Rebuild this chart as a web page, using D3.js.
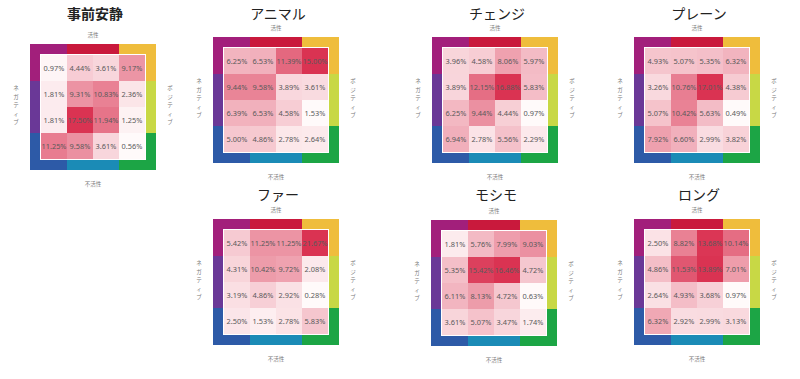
<!DOCTYPE html>
<html>
<head>
<meta charset="utf-8">
<script src="https://cdn.jsdelivr.net/npm/d3@7"></script>
<style>
  body { margin: 0; background: #fff; }
  svg { display: block; }
</style>
</head>
<body>
<svg id="chart" width="800" height="379"></svg>
<script>
// panel titles
var titles = ["事前安静", "アニマル", "チェンジ", "プレーン", "ファー", "モシモ", "ロング"];

// 4x4 percentages per panel, top row (活性) first, left column (ネガティブ) first
var restValues   = [[0.97, 4.44, 3.61, 9.17], [1.81, 9.31, 10.83, 2.36], [1.81, 17.50, 11.94, 1.25], [11.25, 9.58, 3.61, 0.56]];
var animalValues = [[6.25, 6.53, 11.39, 15.00], [9.44, 9.58, 3.89, 3.61], [6.39, 6.53, 4.58, 1.53], [5.00, 4.86, 2.78, 2.64]];
var changeValues = [[3.96, 4.58, 8.06, 5.97], [3.89, 12.15, 16.88, 5.83], [6.25, 9.44, 4.44, 0.97], [6.94, 2.78, 5.56, 2.29]];
var plainValues  = [[4.93, 5.07, 5.35, 6.32], [3.26, 10.76, 17.01, 4.38], [5.07, 10.42, 5.63, 0.49], [7.92, 6.60, 2.99, 3.82]];
var furValues    = [[5.42, 11.25, 11.25, 21.67], [4.31, 10.42, 9.72, 2.08], [3.19, 4.86, 2.92, 0.28], [2.50, 1.53, 2.78, 5.83]];
var moshimoValues= [[1.81, 5.76, 7.99, 9.03], [5.35, 15.42, 16.46, 4.72], [6.11, 8.13, 4.72, 0.63], [3.61, 5.07, 3.47, 1.74]];
var longValues   = [[2.50, 8.82, 13.68, 10.14], [4.86, 11.53, 13.89, 7.01], [2.64, 4.93, 3.68, 0.97], [6.32, 2.92, 2.99, 3.13]];

var panelValues = [restValues, animalValues, changeValues, plainValues, furValues, moshimoValues, longValues];

var axisLabels = {top: "活性", bottom: "不活性", left: "ネガティブ", right: "ポジティブ"};

// layout of each panel (frame top-left corner, title baseline)
var layout = [
  {x: 30,  y: 44,  ty: 19,  bold: true},
  {x: 213, y: 37,  ty: 19},
  {x: 432, y: 37,  ty: 19},
  {x: 634, y: 37,  ty: 19},
  {x: 213, y: 219, ty: 200},
  {x: 431, y: 220, ty: 200},
  {x: 634, y: 219, ty: 200}
];

var frameColors = {tl: "#a21f7b", t: "#c9193c", tr: "#efbd3c", r: "#c8d845",
                   br: "#1ca545", b: "#1b8bb6", bl: "#2d5aa7", l: "#6a3897"};

var border = 10, gap = 1, cell = 26;
var size = border * 2 + gap * 2 + cell * 4;

var svg = d3.select("#chart");
var idx = [0, 1, 2, 3];

var band = d3.scaleBand()
    .domain(idx)
    .range([border + gap, border + gap + cell * 4]);

panelValues.forEach(function(values, p) {
    var L = layout[p];
    var g = svg.append("g").attr("transform", "translate(" + L.x + "," + L.y + ")");
    var flat = d3.merge(values);
    var color = d3.scaleLinear()
        .domain([d3.min(flat), d3.max(flat)])
        .range(["#fffafa", "#da3352"])
        .interpolate(d3.interpolateRgb);

    // frame: corners span border + first cell, middles span two cells
    var a = band(1), b = band(3);
    var segs = [
        [0, 0, a, border, "tl"], [0, 0, border, a, "tl"],
        [a, 0, b - a, border, "t"],
        [b, 0, size - b, border, "tr"], [size - border, 0, border, a, "tr"],
        [size - border, a, border, b - a, "r"],
        [size - border, b, border, size - b, "br"], [b, size - border, size - b, border, "br"],
        [a, size - border, b - a, border, "b"],
        [0, size - border, a, border, "bl"], [0, b, border, size - b, "bl"],
        [0, a, border, b - a, "l"]
    ];
    g.selectAll(".seg").data(segs).enter().append("rect")
        .attr("x", function(d) { return d[0]; })
        .attr("y", function(d) { return d[1]; })
        .attr("width", function(d) { return d[2]; })
        .attr("height", function(d) { return d[3]; })
        .attr("fill", function(d) { return frameColors[d[4]]; });

    var cells = [];
    values.forEach(function(row, r) {
        row.forEach(function(v, c) { cells.push({r: r, c: c, v: v}); });
    });

    g.selectAll(".cell").data(cells).enter().append("rect")
        .attr("x", function(d) { return band(d.c); })
        .attr("y", function(d) { return band(d.r); })
        .attr("width", band.bandwidth())
        .attr("height", band.bandwidth())
        .attr("fill", function(d) { return color(d.v); });

    g.selectAll(".lbl").data(cells).enter().append("text")
        .attr("x", function(d) { return band(d.c) + band.bandwidth() / 2; })
        .attr("y", function(d) { return band(d.r) + band.bandwidth() / 2 + 2.6; })
        .attr("text-anchor", "middle")
        .attr("font-family", "'Noto Sans', 'Open Sans', sans-serif")
        .attr("font-size", 7.4)
        .attr("fill", "#5a5a5a")
        .text(function(d) { return d.v.toFixed(2) + "%"; });

    // title
    svg.append("text")
        .attr("x", L.x + size / 2 + 2)
        .attr("y", L.ty)
        .attr("text-anchor", "middle")
        .attr("font-family", "'Noto Sans CJK JP', sans-serif")
        .attr("font-size", 14)
        .attr("font-weight", L.bold ? "bold" : "normal")
        .attr("fill", "#222")
        .text(titles[p]);

    var small = {"font-family": "'Noto Sans CJK JP', sans-serif", "font-size": 5.5, "fill": "#777"};
    function style(sel) {
        Object.keys(small).forEach(function(k) { sel.attr(k, small[k]); });
        return sel;
    }
    style(g.append("text"))
        .attr("x", size / 2).attr("y", -7)
        .attr("text-anchor", "middle")
        .text(axisLabels.top);
    style(g.append("text"))
        .attr("x", size / 2).attr("y", size + 16)
        .attr("text-anchor", "middle")
        .text(axisLabels.bottom);

    // vertical side labels
    [["left", -14], ["right", size + 14]].forEach(function(s) {
        var chars = axisLabels[s[0]].split("");
        style(g.append("text"))
            .attr("text-anchor", "middle")
            .selectAll("tspan").data(chars).enter().append("tspan")
            .attr("x", s[1])
            .attr("y", function(d, i) { return size / 2 - 17 + i * 8.6; })
            .text(function(d) { return d; });
    });
});
</script>
</body>
</html>
